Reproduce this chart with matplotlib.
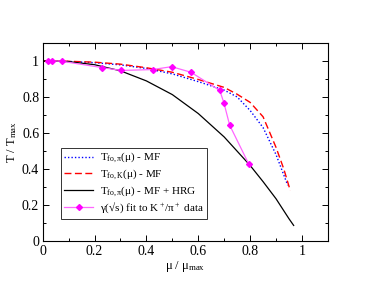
import matplotlib
matplotlib.use("Agg")
import matplotlib.pyplot as plt
from matplotlib.ticker import MultipleLocator, FormatStrFormatter

plt.rcParams['font.family'] = ['Liberation Serif', 'DejaVu Serif']
plt.rcParams['mathtext.fontset'] = 'custom'
plt.rcParams['mathtext.rm'] = 'Liberation Serif'
plt.rcParams['mathtext.it'] = 'Liberation Serif'

# T_fo,pi(mu) - MF (blue dotted)
mu_pi = [0, 0.1, 0.2, 0.3, 0.4, 0.5, 0.6, 0.7, 0.75, 0.8, 0.85, 0.9, 0.945]
t_pi = [1.0, 0.997, 0.99, 0.978, 0.958, 0.928, 0.885, 0.838, 0.8, 0.725, 0.63, 0.48, 0.31]

# T_fo,K(mu) - MF (red dashed)
mu_k = [0, 0.1, 0.2, 0.3, 0.4, 0.5, 0.6, 0.7, 0.75, 0.8, 0.85, 0.9, 0.93, 0.955]
t_k = [1.0, 0.998, 0.993, 0.982, 0.962, 0.937, 0.897, 0.853, 0.815, 0.77, 0.69, 0.52, 0.4, 0.28]

# T_fo,pi(mu) - MF + HRG (black)
mu_hrg = [0, 0.1, 0.2, 0.3, 0.4, 0.5, 0.6, 0.7, 0.8, 0.85, 0.9, 0.95, 0.968]
t_hrg = [1.0, 0.996, 0.979, 0.945, 0.889, 0.813, 0.708, 0.578, 0.42, 0.33, 0.235, 0.124, 0.087]

# gamma(sqrt s) fit to K+/pi+ data (magenta)
mu_fit = [0.020, 0.036, 0.074, 0.229, 0.303, 0.424, 0.497, 0.572, 0.683, 0.699, 0.721, 0.794]
t_fit = [1.0, 1.0, 0.998, 0.963, 0.947, 0.952, 0.968, 0.937, 0.836, 0.767, 0.644, 0.430]

fig = plt.figure(figsize=(3.68, 2.84), dpi=100)
ax = fig.add_axes([0.116, 0.151, 0.775, 0.698])

ax.plot(mu_pi, t_pi, color='blue', linestyle=(0, (1, 1.5)), linewidth=1.0,
        label=r'T$_{\mathrm{fo,\pi}}$($\mathrm{\mu}$) - MF')
ax.plot(mu_k, t_k, color='red', linestyle=(0, (5, 2.5)), linewidth=1.0,
        label=r'T$_{\mathrm{fo,K}}$($\mathrm{\mu}$) - MF')
ax.plot(mu_hrg, t_hrg, color='black', linewidth=0.9,
        label=r'T$_{\mathrm{fo,\pi}}$($\mathrm{\mu}$) - MF + HRG')
ax.plot(mu_fit, t_fit, color='#ff66ff', linewidth=0.9, marker='D', markersize=3,
        markerfacecolor='magenta', markeredgecolor='magenta',
        label='\u03b3(\u221as) fit to K$^+$/\u03c0$^+$ data')

ax.set_xlim(0, 1.1)
ax.set_ylim(0, 1.1)
ax.xaxis.set_major_locator(MultipleLocator(0.2))
ax.xaxis.set_minor_locator(MultipleLocator(0.1))
ax.yaxis.set_major_locator(MultipleLocator(0.2))
ax.yaxis.set_minor_locator(MultipleLocator(0.1))
ax.xaxis.set_major_formatter(FormatStrFormatter('%g'))
ax.yaxis.set_major_formatter(FormatStrFormatter('%g'))
ax.tick_params(which='both', direction='in', top=True, right=True, labelsize=10, width=0.7)
ax.tick_params(which='major', length=4, pad=2.5)
ax.tick_params(which='minor', length=2.5)
for s in ax.spines.values():
    s.set_linewidth(0.8)

ax.set_xlabel('\u03bc / \u03bc$_{\\mathrm{max}}$', fontsize=9, labelpad=1)
ax.set_ylabel(r'T / T$_{\mathrm{max}}$', fontsize=9, labelpad=2)

leg = ax.legend(loc='lower left', bbox_to_anchor=(0.045, 0.085), fontsize=8, frameon=True,
                fancybox=False, edgecolor='black', handlelength=2.6, borderpad=0.3,
                labelspacing=0.2, handletextpad=0.6)
leg.get_frame().set_linewidth(0.7)

fig.savefig('out.png', dpi=100)
